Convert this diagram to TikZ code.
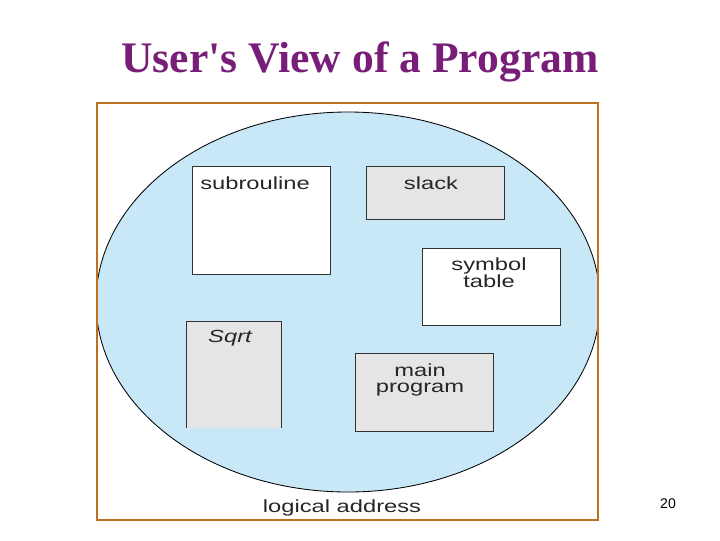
\documentclass[tikz,border=0pt]{standalone}
\usepackage{fontspec}
\setmainfont{Liberation Serif}
\newfontfamily\arialf{Liberation Sans}
\begin{document}
\begin{tikzpicture}[x=0.025cm,y=-0.025cm,
  seg/.style={draw=black!80,line width=0.6pt},
  lbl/.style={font=\arialf\fontsize{12.5}{12}\selectfont,align=center,text=black!85,inner sep=0pt,xscale=1.35}]
\useasboundingbox (0,0) rectangle (720,540);
\node[font=\bfseries\fontsize{31}{33}\selectfont,text={rgb,255:red,120;green,30;blue,120}] (title) at (360,62) {User\textquotesingle s View of a Program};
\begin{scope}
\clip (97,103) rectangle (598,520);
\fill[white] (97,103) rectangle (598,520);
\draw[fill={rgb,255:red,200;green,232;blue,248},line width=0.6pt] (348,302) ellipse [x radius=252,y radius=190];
\end{scope}
\draw[draw={rgb,255:red,192;green,112;blue,32},line width=1.6pt] (97,103) rectangle (598,520);
\draw[seg,fill=white] (192,166) rectangle (330,274);
\draw[seg,fill=black!10] (366,166) rectangle (504,219);
\draw[seg,fill=white] (422,248) rectangle (560,325);
\fill[black!10] (186,321) rectangle (281,428);
\draw[seg] (186,428) -- (186,321) -- (281,321) -- (281,428);
\draw[seg,fill=black!10] (355,353) rectangle (493,431);
\node[lbl] (sub) at (255,183) {subrouline};
\node[lbl] (stk) at (431,183) {slack};
\node[lbl] (sym) at (489,273) {symbol\\table};
\node[lbl,font=\arialf\itshape\fontsize{12.5}{12}\selectfont] (sq) at (230,338) {Sqrt};
\node[lbl] (mp) at (420,380) {main\\program};
\node[lbl] (la) at (342,508) {logical address};
\node[font=\arialf\fontsize{10}{10}\selectfont] (pg) at (668,504) {20};
\end{tikzpicture}
\end{document}
